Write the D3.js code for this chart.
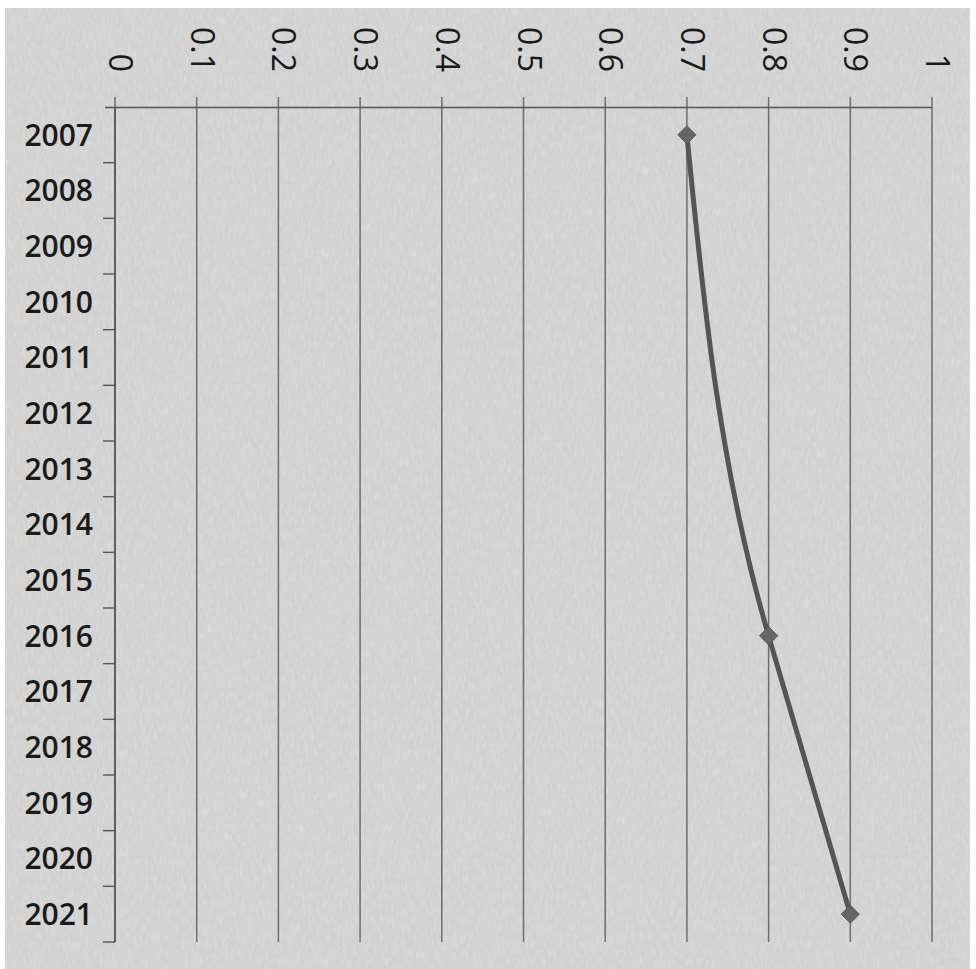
<!DOCTYPE html>
<html>
<head>
<meta charset="utf-8">
<script src="https://cdn.jsdelivr.net/npm/d3@7"></script>
<style>
  html, body { margin: 0; padding: 0; background: #ffffff; }
  svg { display: block; }
</style>
</head>
<body>
<div id="chart"></div>
<script>
// Years shown down the category axis
const years = ["2007","2008","2009","2010","2011","2012","2013","2014","2015","2016","2017","2018","2019","2020","2021"];
// Values known for a few of the years
const pointYears = ["2007", "2016", "2021"];
const pointValues = [0.7, 0.8, 0.9];
// Value-axis tick labels along the top
const tickValues = [0, 0.1, 0.2, 0.3, 0.4, 0.5, 0.6, 0.7, 0.8, 0.9, 1];
const tickLabels = ["0", "0.1", "0.2", "0.3", "0.4", "0.5", "0.6", "0.7", "0.8", "0.9", "1"];

const W = 976, H = 969;
const margin = { top: 107, left: 115, right: 44, bottom: 27 };

// Smooth curve for a series running down the page: x is treated as a
// function of y and joined with cubic Hermite segments. Each inner point
// takes the slope of the segment that follows it; the end points use a
// one-sided estimate, which lets the line ease out of its first point.
function curveSmoothY(context) {
  let xs, ys;
  return {
    areaStart() {}, areaEnd() {},
    lineStart() { xs = []; ys = []; },
    point(x, y) { xs.push(+x); ys.push(+y); },
    lineEnd() {
      const n = xs.length;
      if (!n) return;
      context.moveTo(xs[0], ys[0]);
      if (n === 1) return;
      const h = [], s = [];
      for (let i = 0; i < n - 1; i++) {
        h.push(ys[i + 1] - ys[i]);
        s.push((xs[i + 1] - xs[i]) / h[i]);
      }
      const m = new Array(n);
      for (let i = 1; i < n - 1; i++) m[i] = s[i];
      if (n === 2) { m[0] = m[1] = s[0]; }
      else {
        m[0] = (3 * s[0] - m[1]) / 2;
        m[n - 1] = (3 * s[n - 2] - m[n - 2]) / 2;
      }
      for (let i = 0; i < n - 1; i++) {
        const d = h[i] / 3;
        context.bezierCurveTo(
          xs[i] + m[i] * d, ys[i] + d,
          xs[i + 1] - m[i + 1] * d, ys[i + 1] - d,
          xs[i + 1], ys[i + 1]);
      }
    }
  };
}

const svg = d3.select("#chart").append("svg")
  .attr("width", W).attr("height", H);

// Paper grain for the backdrop
const defs = svg.append("defs");
const grain = defs.append("filter").attr("id", "grain")
  .attr("x", 0).attr("y", 0).attr("width", "100%").attr("height", "100%");
grain.append("feTurbulence").attr("type", "fractalNoise")
  .attr("baseFrequency", "0.35 0.12").attr("numOctaves", 3).attr("seed", 7).attr("result", "noise");
grain.append("feColorMatrix").attr("in", "noise").attr("type", "matrix")
  .attr("values", "0 0 0 0 1  0 0 0 0 1  0 0 0 0 1  1.4 0 0 0 -0.62")
  .attr("result", "tint");
grain.append("feComposite").attr("in", "tint").attr("in2", "SourceGraphic").attr("operator", "in");

svg.append("rect").attr("x", 5).attr("y", 8).attr("width", 965).attr("height", H - 8)
  .attr("fill", "#d2d2d2");
svg.append("rect").attr("x", 5).attr("y", 8).attr("width", 965).attr("height", H - 8)
  .attr("fill", "#d2d2d2").attr("filter", "url(#grain)").attr("opacity", 0.35);

const x = d3.scaleLinear().domain([0, 1]).range([margin.left, W - margin.right]);
const y = d3.scaleBand().domain(years).range([margin.top, H - margin.bottom]).padding(0);

const ink = "#555555";

// Vertical gridlines, rising slightly above the axis as tick marks
svg.append("g").selectAll("line").data(tickValues).join("line")
  .attr("x1", d => x(d)).attr("x2", d => x(d))
  .attr("y1", margin.top - 10).attr("y2", H - margin.bottom)
  .attr("stroke", "#6e6e6e").attr("stroke-width", 1.5);

// Top value axis
const topAxis = d3.axisTop(x).tickValues(tickValues).tickSize(0)
  .tickFormat((d, i) => tickLabels[i]);
const gTop = svg.append("g").attr("transform", `translate(0,${margin.top})`).call(topAxis);
gTop.select(".domain").attr("stroke", ink).attr("stroke-width", 1.6)
  .attr("d", `M${margin.left - 10},0.5H${x(1)}`);
gTop.selectAll("text")
  .attr("transform", "translate(0,-35) rotate(90)")
  .attr("x", 0).attr("y", 0).attr("dy", "0.2em")
  .attr("text-anchor", "end")
  .attr("font-family", "'Open Sans', sans-serif").attr("font-weight", 500)
  .attr("font-size", 32).attr("fill", "#1a1a1a");

// Left category axis with ticks between the bands
const gLeft = svg.append("g").attr("transform", `translate(${margin.left},0)`);
gLeft.append("line").attr("x1", 0).attr("x2", 0)
  .attr("y1", margin.top).attr("y2", H - margin.bottom)
  .attr("stroke", ink).attr("stroke-width", 1.6);
const bounds = years.map(d => y(d)).concat([H - margin.bottom]).slice(1);
gLeft.selectAll("line.tk").data(bounds).join("line").attr("class", "tk")
  .attr("x1", -12).attr("x2", 0).attr("y1", d => d).attr("y2", d => d)
  .attr("stroke", ink).attr("stroke-width", 1.4);
gLeft.selectAll("text").data(years).join("text")
  .attr("x", -22).attr("y", d => y(d) + y.bandwidth() / 2).attr("dy", "0.36em")
  .attr("text-anchor", "end")
  .attr("font-family", "'Open Sans', sans-serif").attr("font-weight", 600)
  .attr("font-size", 30).attr("fill", "#1a1a1a")
  .text(d => d);

// Smoothed series line
const pts = pointYears.map((d, i) => ({ year: d, value: pointValues[i] }));
const line = d3.line()
  .x(d => x(d.value))
  .y(d => y(d.year) + y.bandwidth() / 2)
  .curve(curveSmoothY);
svg.append("path").datum(pts)
  .attr("d", line).attr("fill", "none")
  .attr("stroke", "#555555").attr("stroke-width", 5)
  .attr("stroke-linejoin", "round");

// Diamond markers
svg.append("g").selectAll("path").data(pts).join("path")
  .attr("transform", d => `translate(${x(d.value)},${y(d.year) + y.bandwidth() / 2})`)
  .attr("d", d3.symbol().type(d3.symbolDiamond2).size(210))
  .attr("fill", "#666666").attr("stroke", "#5a5a5a").attr("stroke-width", 1);
</script>
</body>
</html>
